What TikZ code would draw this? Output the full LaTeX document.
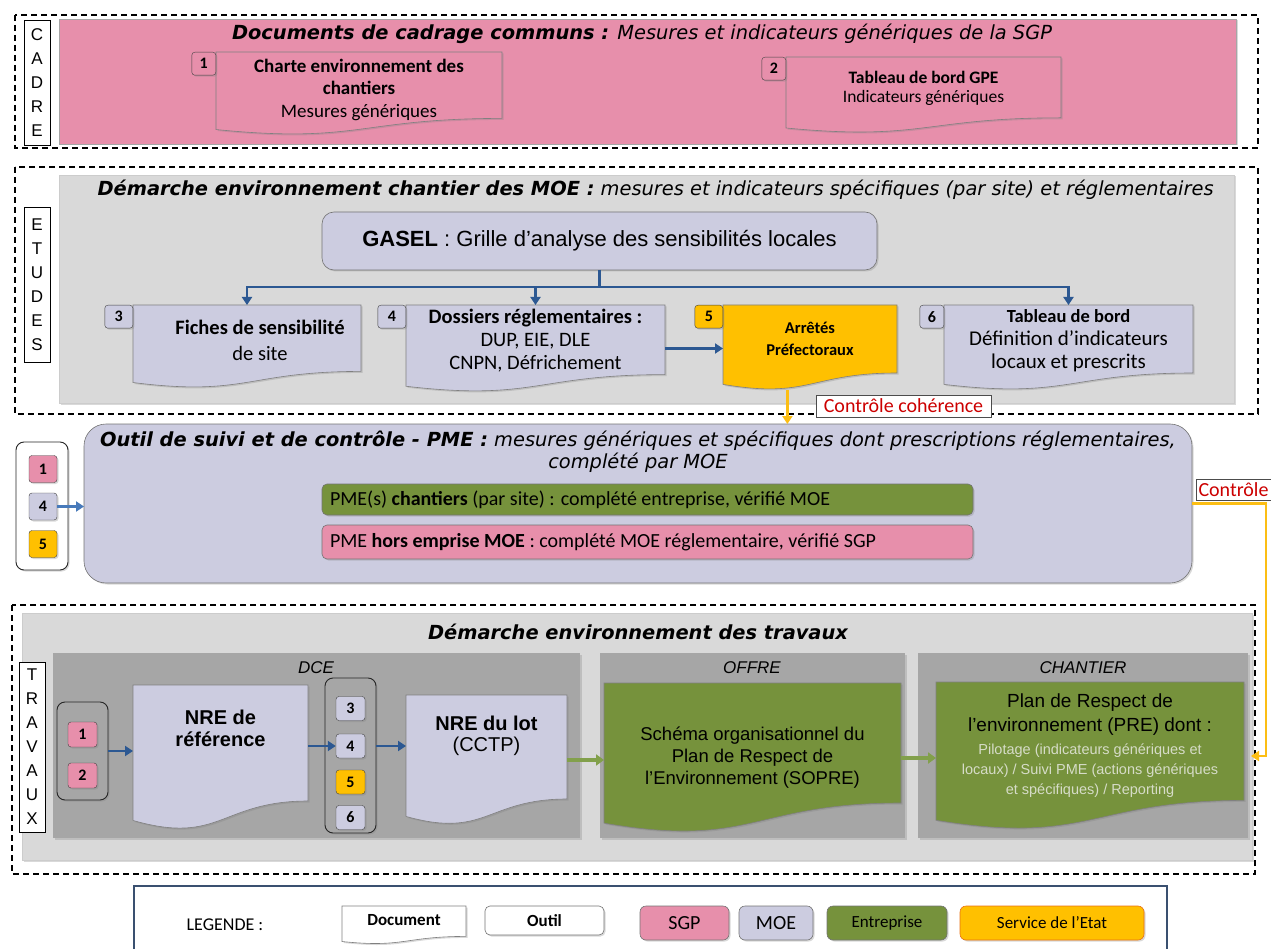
\documentclass[tikz,border=0pt]{standalone}
\usepackage{fontspec}
\setmainfont{Carlito}
\newfontfamily\verd{DejaVu Sans}
\newfontfamily\arial{Liberation Sans}
\usetikzlibrary{arrows.meta,calc,shadows}
\definecolor{sgp}{RGB}{231,143,171}
\definecolor{moe}{RGB}{204,204,224}
\definecolor{entr}{RGB}{118,146,60}
\definecolor{etat}{RGB}{255,192,0}
\definecolor{etatline}{RGB}{232,112,20}
\definecolor{pale}{RGB}{217,217,217}
\definecolor{dcegray}{RGB}{166,166,166}
\definecolor{flowblue}{RGB}{44,88,146}
\definecolor{softblue}{RGB}{72,122,186}
\definecolor{greenarrow}{RGB}{130,160,75}
\definecolor{ctrlorange}{RGB}{252,190,20}
\definecolor{ctrlred}{RGB}{204,0,0}
\definecolor{legframe}{RGB}{58,80,112}
\definecolor{pregray}{RGB}{214,220,200}
\newcommand\prefont{\fontsize{14.5}{15}\selectfont\color{pregray}}
% document shape: name, fill, x1, y1, x2, y2, text raise, node options, text
\newcommand\docnode[9]{%
  \path[doc,fill=#2] (#3,#4) -- (#5,#4) -- (#5,{#4+0.8*(#6-#4)})
    .. controls ({(#3+#5)/2},{#4+0.8*(#6-#4)}) and ({(#3+#5)/2},{#4+1.107*(#6-#4)}) .. (#3,{#4+0.934*(#6-#4)}) -- cycle;
  \node (#1)[docbox,minimum width={#5-#3},minimum height={#6-#4},#8] at ({(#3+#5)/2},{(#4+#6)/2})
    {\raisebox{#7pt}[\height][\depth]{\begin{tabular}{@{}c@{}}#9\end{tabular}}};}
\begin{document}
\begin{tikzpicture}[x=1pt,y=-1pt]
\tikzstyle{zone}=[draw=black,line width=1.1pt,dash pattern=on 6pt off 4pt]
\tikzstyle{softshadow}=[drop shadow={opacity=0.3,shadow xshift=1.5pt,shadow yshift=-1.5pt}]
\tikzstyle{vlabel}=[draw=black,fill=white,line width=0.6pt,minimum width=26pt,inner sep=0pt,align=center,font=\arial\fontsize{17}{24}\selectfont]
\tikzstyle{doc}=[draw=black!50,line width=0.6pt,softshadow]
\tikzstyle{docbox}=[inner sep=0pt,outer sep=0pt,font=\fontsize{18.5}{22}\selectfont]
\tikzstyle{tag}=[draw=black!75,rounded corners=3pt,minimum width=24pt,minimum height=23pt,inner sep=0pt,font=\fontsize{16}{16}\selectfont\bfseries,softshadow]
\tikzstyle{tool}=[draw=black!55,line width=0.6pt,inner sep=0pt,outer sep=0pt,softshadow]
\tikzstyle{group}=[draw=black!85,line width=0.9pt,rounded corners=8pt,inner sep=0pt,softshadow]
\tikzstyle{bar}=[tool,rounded corners=5pt,minimum width=651pt,inner xsep=8pt,text width=635pt,align=flush left,font=\fontsize{20}{20}\selectfont]
\tikzstyle{heading}=[font=\verd\itshape\fontsize{19.4}{22}\selectfont]
\tikzstyle{pane}=[font=\arial\itshape\fontsize{17}{17}\selectfont]
\tikzstyle{flowline}=[draw=flowblue,line width=2.2pt]
\tikzstyle{flow}=[flowline,-{Triangle[length=8pt,width=10pt]}]
\tikzstyle{gflow}=[draw=greenarrow,line width=3.2pt,-{Triangle[length=8pt,width=11pt]}]
\tikzstyle{ctrl}=[draw=ctrlorange,line width=2.5pt,-{Triangle[length=8pt,width=10pt]}]
\tikzstyle{ctrltext}=[draw=black!70,fill=white,text=ctrlred,line width=0.5pt,inner sep=0pt,font=\fontsize{20}{20}\selectfont]
\useasboundingbox (0,0) rectangle (1271,949);

% CADRE
\draw[zone] (15,15) rectangle (1258,148);
\path[fill=sgp,draw=black!35,softshadow] (59,19) rectangle (1236,144);
\node (cadre)[vlabel,minimum height=125pt] at (37,82.5) {C\\A\\D\\R\\E};
\node (cadretitle)[heading] at (642,34) {\textbf{Documents de cadrage communs :} Mesures et indicateurs génériques de la SGP};
\docnode{charte}{sgp}{216}{52}{502}{135}{3}{font=\fontsize{19}{22.5}\selectfont}{\textbf{Charte environnement des}\\\textbf{chantiers}\\Mesures génériques}
\docnode{tdbgpe}{sgp}{786}{57}{1061}{133}{6}{font=\fontsize{17.5}{19}\selectfont}{\textbf{Tableau de bord GPE}\\Indicateurs génériques}
\node (c1)[tag,fill=sgp,anchor=north east] at (charte.north west) {1};
\node (c2)[tag,fill=sgp,anchor=north east] at (tdbgpe.north west) {2};

% ETUDES
\draw[zone] (15,167) rectangle (1258,414);
\path[fill=pale,draw=black!20,softshadow] (59,175) rectangle (1234,403);
\node (etudes)[vlabel,minimum height=155pt] at (37,284.5) {E\\T\\U\\D\\E\\S};
\node (etudestitle)[heading,anchor=west] at (94,190) {\textbf{Démarche environnement chantier des MOE :} mesures et indicateurs spécifiques (par site) et réglementaires};
\node (gasel)[tool,fill=moe,rounded corners=12pt,minimum width=555pt,minimum height=58pt,font=\arial\fontsize{22}{22}\selectfont] at (599.5,241) {\textbf{GASEL} : Grille d’analyse des sensibilités locales};
\docnode{fiches}{moe}{133}{305}{361}{388}{4}{font=\fontsize{20.5}{25}\selectfont}{\hspace*{26pt}\textbf{Fiches de sensibilité}\\\hspace*{26pt}de site}
\docnode{dossiers}{moe}{406}{305}{665}{392}{7}{font=\fontsize{20.5}{23}\selectfont}{\textbf{Dossiers réglementaires :}\\DUP, EIE, DLE\\CNPN, Défrichement}
\docnode{arretes}{etat}{723}{305}{897}{390}{7}{font=\fontsize{16.5}{22}\selectfont\bfseries}{Arrêtés\\Préfectoraux}
\docnode{tdb}{moe}{944}{305}{1193}{390}{7}{font=\fontsize{21}{23}\selectfont}{{\fontsize{18.5}{19}\selectfont\bfseries Tableau de bord}\\Définition d’indicateurs\\locaux et prescrits}
\node (e3)[tag,fill=moe,minimum width=28pt,anchor=north east] at (fiches.north west) {3};
\node (e4)[tag,fill=moe,minimum width=28pt,anchor=north east] at (dossiers.north west) {4};
\node (e5)[tag,fill=etat,minimum width=28pt,anchor=north east] at (arretes.north west) {5};
\node (e6)[tag,fill=moe,minimum width=24pt,anchor=north east] at (tdb.north west) {6};
\coordinate (split) at ($(gasel.south)+(0,17)$);
\draw[flowline] (gasel.south) -- (split);
\draw[flow] (split) -| (fiches.north);
\draw[flow] (split) -| (dossiers.north);
\draw[flow] (split) -| (tdb.north);
\draw[flow] (dossiers.east) -- (dossiers.east -| arretes.west);

% PME
\node (pme)[tool,fill=moe,rounded corners=22pt,minimum width=1108pt,minimum height=159pt] at (638,503.5) {};
\node (pmetitle)[heading,align=center,font=\verd\itshape\fontsize{19.4}{22}\selectfont] at (638,452) {\textbf{Outil de suivi et de contrôle - PME :} mesures génériques et spécifiques dont prescriptions réglementaires,\\complété par MOE};
\node (pmechantier)[bar,fill=entr,minimum height=31pt] at (647.5,499.5) {PME(s) \textbf{chantiers} (par site) : complété entreprise, vérifié MOE};
\node (pmehors)[bar,fill=sgp,minimum height=34pt] at (647.5,542) {PME \textbf{hors emprise MOE} : complété MOE réglementaire, vérifié SGP};
\node (grp145)[group,fill=white,minimum width=52pt,minimum height=128pt] at (42,506) {};
\node (p1)[tag,fill=sgp,minimum width=28pt,minimum height=27pt] at (43,469) {1};
\node (p4)[tag,fill=moe,minimum width=28pt,minimum height=27pt] at (43,506.5) {4};
\node (p5)[tag,fill=etat,minimum width=28pt,minimum height=27pt] at (43,544) {5};
\draw[flow,draw=softblue,line width=2.6pt] (p4.east) -- (p4.east -| pme.west);
\coordinate (ctrlA) at ($(arretes.south west)!0.37!(arretes.south east)$);
\draw[ctrl] (ctrlA) -- (ctrlA |- pme.north);
\node (coherence)[ctrltext,minimum width=175pt,minimum height=22pt] at (903.5,406) {Contrôle cohérence};

% TRAVAUX
\draw[zone] (12,605) rectangle (1255,874);
\path[fill=pale,draw=black!20,softshadow] (22,613) rectangle (1252,860);
\node (travaux)[vlabel,minimum height=170pt] at (32,747) {T\\R\\A\\V\\A\\U\\X};
\node (travtitle)[heading] at (638,632) {\bfseries Démarche environnement des travaux};
\path[fill=dcegray,softshadow] (53,653) rectangle (580,838);
\path[fill=dcegray,softshadow] (600,653) rectangle (905,838);
\path[fill=dcegray,softshadow] (918,653) rectangle (1248,838);
\node (dce)[pane] at (316,668) {DCE};
\node (offre)[pane] at (752,668) {OFFRE};
\node (chantier)[pane] at (1083,668) {CHANTIER};
\node (grp12)[group,fill=dcegray,minimum width=51pt,minimum height=98pt] at (82.5,751) {};
\node (d1)[tag,fill=sgp,minimum width=29pt,minimum height=25pt] at (82.5,734.5) {1};
\node (d2)[tag,fill=sgp,minimum width=29pt,minimum height=25pt] at (82.5,775.5) {2};
\docnode{nreref}{moe}{133}{685}{308}{830}{26}{font=\arial\bfseries\fontsize{20}{22}\selectfont}{NRE de\\référence}
\node (grp36)[group,fill=dcegray,minimum width=51pt,minimum height=155pt] at (350.5,755.5) {};
\node (d3)[tag,fill=moe,minimum width=29pt,minimum height=24pt] at (350.5,708.5) {3};
\node (d4)[tag,fill=moe,minimum width=29pt,minimum height=24pt] at (350.5,746) {4};
\node (d5)[tag,fill=etat,minimum width=29pt,minimum height=24pt] at (350.5,782) {5};
\node (d6)[tag,fill=moe,minimum width=29pt,minimum height=24pt] at (350.5,817.5) {6};
\docnode{nrelot}{moe}{406}{695}{567}{825}{23}{font=\arial\fontsize{20}{21}\selectfont}{\textbf{NRE du lot}\\(CCTP)}
\docnode{sopre}{entr}{604}{683}{901}{833}{0}{font=\arial\fontsize{18.5}{22}\selectfont}{Schéma organisationnel du\\Plan de Respect de\\l’Environnement (SOPRE)}
\docnode{pre}{entr}{936}{682}{1244}{830}{10}{font=\arial\fontsize{19}{24}\selectfont}{Plan de Respect de\\l’environnement (PRE) dont :\\[-1pt]\prefont Pilotage (indicateurs génériques et\\[-4pt]\prefont locaux) / Suivi PME (actions génériques\\[-4pt]\prefont et spécifiques) / Reporting}
\draw[flow] (grp12.east) -- (grp12.east -| nreref.west);
\draw[flow] (d4 -| nreref.east) -- (d4.west);
\draw[flow] (d4 -| grp36.east) -- (d4 -| nrelot.west);
\draw[gflow] (nrelot.east) -- (nrelot.east -| sopre.west);
\draw[gflow] (sopre.east) -- (sopre.east -| pre.west);
\coordinate (ctrlB) at (1266,0);
\draw[ctrl,shorten >=7pt] (pme.east) -| (ctrlB |- pre.east) -- (pre.east);
\node (controle)[ctrltext,minimum width=75pt,minimum height=21pt] at (1233.5,489.5) {Contrôle};

% LEGENDE
\draw[legframe,line width=2pt] (134,886) rectangle (1167,958);
\node (legende)[font=\fontsize{18}{18}\selectfont] at (225,925) {LEGENDE :};
\docnode{legdoc}{white}{342}{906}{466}{944}{3}{font=\fontsize{17}{17}\selectfont\bfseries}{Document}
\node (legoutil)[tool,fill=white,rounded corners=5pt,minimum width=119pt,minimum height=29pt,font=\fontsize{17}{17}\selectfont\bfseries] at (544.5,920.5) {Outil};
\node (legsgp)[tool,fill=sgp,rounded corners=6pt,minimum width=89pt,minimum height=34pt,font=\fontsize{20}{20}\selectfont] at (684.5,923) {SGP};
\node (legmoe)[tool,fill=moe,rounded corners=6pt,minimum width=74pt,minimum height=34pt,font=\fontsize{20}{20}\selectfont] at (776,923) {MOE};
\node (legentr)[tool,fill=entr,rounded corners=6pt,minimum width=120pt,minimum height=34pt,font=\fontsize{17}{17}\selectfont] at (887,923) {Entreprise};
\node (legetat)[tool,fill=etat,draw=etatline,rounded corners=6pt,minimum width=184pt,minimum height=34pt,font=\fontsize{17}{17}\selectfont] at (1052,923) {Service de l’Etat};
\end{tikzpicture}
\end{document}
